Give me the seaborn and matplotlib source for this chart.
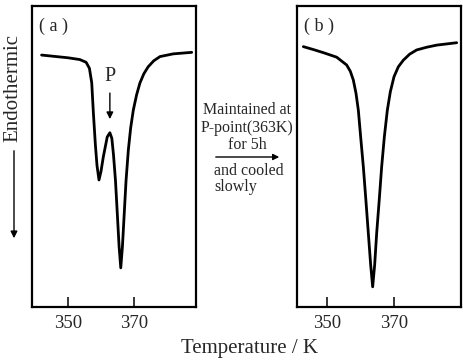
import matplotlib
matplotlib.use("Agg")
import matplotlib.pyplot as plt
import seaborn as sns
import pandas as pd

# ---- data ----
temp_a = [342.0, 350.0, 353.6, 355.5, 356.5, 357.2, 357.7, 358.3, 358.8, 359.4,
          360.0, 360.7, 361.9, 362.7, 363.3, 363.8, 364.4, 364.9, 365.5, 366.0,
          366.5, 367.0, 367.6, 368.3, 369.0, 369.8, 370.8, 371.8, 373.0, 374.3,
          376.0, 377.9, 381.9, 387.5]
signal_a = [83.7, 82.8, 82.2, 81.3, 79.3, 74.5, 64.5, 54.0, 47.0, 42.2,
            45.0, 49.8, 56.5, 57.9, 56.0, 50.5, 42.0, 32.0, 20.0, 13.0,
            20.0, 30.0, 42.0, 52.2, 59.5, 65.4, 70.5, 74.4, 77.5, 79.8,
            81.8, 83.2, 84.1, 84.6]

temp_b = [342.9, 346.0, 348.9, 352.9, 355.9, 357.0, 357.9, 358.7, 359.4, 360.1,
          360.9, 361.7, 362.4, 363.1, 363.7, 364.3, 364.9, 365.7, 366.4, 367.2,
          368.1, 369.0, 370.1, 371.4, 372.9, 374.8, 376.9, 379.9, 382.9, 388.9]
signal_b = [86.5, 85.5, 84.5, 83.0, 80.4, 78.3, 75.4, 71.0, 65.4, 56.5,
            46.6, 35.0, 24.5, 14.0, 6.7, 14.0, 24.5, 36.0, 46.6, 56.5,
            65.4, 71.5, 76.5, 79.8, 82.0, 84.0, 85.4, 86.3, 87.0, 87.8]

x_ticks = [350, 370]
panel_labels = ["( a )", "( b )"]
p_point = 362.7

sns.set_style("ticks")
plt.rcParams["font.family"] = ["Liberation Serif", "DejaVu Serif"]

W, H = 463, 362
fig = plt.figure(figsize=(W / 100, H / 100), dpi=100)

def fx(px):
    return px / W

def fy(py):
    return 1 - py / H

ax_a = fig.add_axes([fx(32), fy(307), fx(196) - fx(32), fy(6) - fy(307)])
ax_b = fig.add_axes([fx(297), fy(307), fx(461) - fx(297), fy(6) - fy(307)])

df_a = pd.DataFrame({"T": temp_a, "S": signal_a})
df_b = pd.DataFrame({"T": temp_b, "S": signal_b})

sns.lineplot(data=df_a, x="T", y="S", ax=ax_a, color="black", lw=2.0, sort=False)
sns.lineplot(data=df_b, x="T", y="S", ax=ax_b, color="black", lw=2.0, sort=False)

for ax, xl, lab in [(ax_a, (339.1, 388.8), panel_labels[0]),
                    (ax_b, (341.0, 390.2), panel_labels[1])]:
    ax.set_xlim(*xl)
    ax.set_ylim(0, 100)
    ax.set_xticks(x_ticks)
    ax.set_xticklabels([str(t) for t in x_ticks], fontsize=13.5)
    ax.set_yticks([])
    ax.set_xlabel("")
    ax.set_ylabel("")
    ax.tick_params(axis="x", direction="in", length=7, width=1.3, pad=6,
                   top=False, bottom=True)
    for s in ax.spines.values():
        s.set_visible(True)
        s.set_linewidth(1.6)
        s.set_color("black")
    ax.text(0.04, 0.96, lab, transform=ax.transAxes, fontsize=13,
            ha="left", va="top")

# P marker with arrow
ax_a.annotate("", xy=(p_point, 61.5), xytext=(p_point, 72.0),
              arrowprops=dict(arrowstyle="-|>", color="black", lw=1.0,
                              mutation_scale=10))
ax_a.text(p_point - 0.1, 73.5, "P", fontsize=14.5, ha="center", va="bottom")

# Endothermic label and arrow
fig.text(fx(13), fy(88), "Endothermic", rotation=90, fontsize=15,
         ha="center", va="center")
fig.add_artist(matplotlib.patches.FancyArrowPatch(
    (fx(14), fy(148)), (fx(14), fy(241)), transform=fig.transFigure,
    arrowstyle="-|>", mutation_scale=10, color="black", lw=1.0))

# middle annotation
fig.text(fx(247), fy(110), "Maintained at", fontsize=11.5, ha="center", va="center")
fig.text(fx(247), fy(128), "P-point(363K)", fontsize=11.5, ha="center", va="center")
fig.text(fx(247), fy(145), "for 5h", fontsize=11.5, ha="center", va="center")
fig.add_artist(matplotlib.patches.FancyArrowPatch(
    (fx(213), fy(157)), (fx(282), fy(157)), transform=fig.transFigure,
    arrowstyle="-|>", mutation_scale=9, color="black", lw=1.0))
fig.text(fx(214), fy(171), "and cooled", fontsize=11.5, ha="left", va="center")
fig.text(fx(214), fy(187), "slowly", fontsize=11.5, ha="left", va="center")

# shared x label
fig.text(fx(250), fy(348), "Temperature / K", fontsize=15, ha="center",
         va="center")

fig.savefig("out.png", dpi=100)
